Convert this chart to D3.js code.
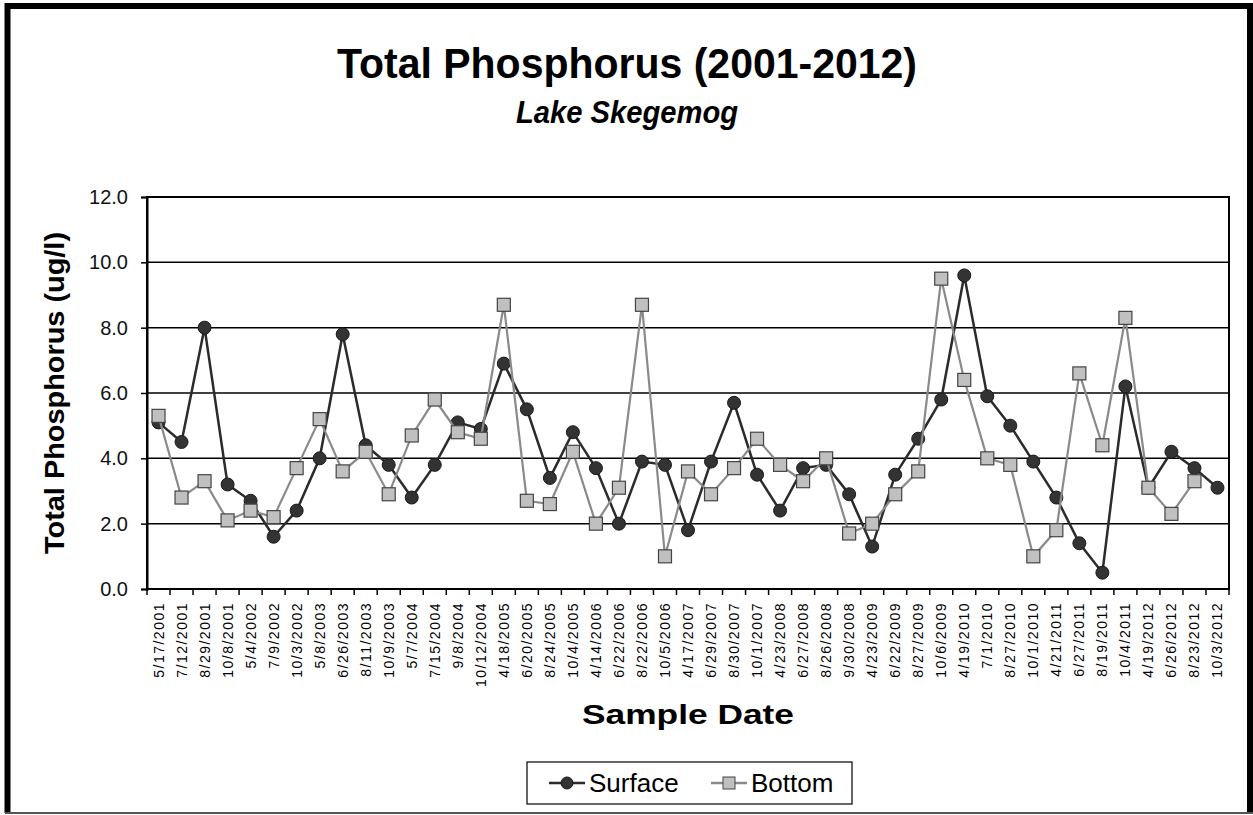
<html>
<head>
  <title>Total Phosphorus</title>
  <script src="https://d3js.org/d3.v7.min.js"></script>
  <style>
    body { margin: 0; background: #fff; }
    text { font-family: Arial, "Liberation Sans", sans-serif; fill: #000; }
  </style>
</head>
<body>
  <div id="chart"></div>

  <script type="text/javascript">

    // Sample dates (categories)
    var dates = ['5/17/2001', '7/12/2001', '8/29/2001', '10/8/2001', '5/4/2002', '7/9/2002', '10/3/2002',
                 '5/8/2003', '6/26/2003', '8/11/2003', '10/9/2003', '5/7/2004', '7/15/2004', '9/8/2004',
                 '10/12/2004', '4/18/2005', '6/20/2005', '8/24/2005', '10/4/2005', '4/14/2006', '6/22/2006',
                 '8/22/2006', '10/5/2006', '4/17/2007', '6/29/2007', '8/30/2007', '10/1/2007', '4/23/2008',
                 '6/27/2008', '8/26/2008', '9/30/2008', '4/23/2009', '6/22/2009', '8/27/2009', '10/6/2009',
                 '4/19/2010', '7/1/2010', '8/27/2010', '10/1/2010', '4/21/2011', '6/27/2011', '8/19/2011',
                 '10/4/2011', '4/19/2012', '6/26/2012', '8/23/2012', '10/3/2012'];

    // Total phosphorus (ug/l)
    var surface = [5.1, 4.5, 8.0, 3.2, 2.7, 1.6, 2.4, 4.0, 7.8, 4.4, 3.8, 2.8, 3.8, 5.1, 4.9, 6.9, 5.5,
                   3.4, 4.8, 3.7, 2.0, 3.9, 3.8, 1.8, 3.9, 5.7, 3.5, 2.4, 3.7, 3.8, 2.9, 1.3, 3.5, 4.6,
                   5.8, 9.6, 5.9, 5.0, 3.9, 2.8, 1.4, 0.5, 6.2, 3.1, 4.2, 3.7, 3.1];
    var bottom = [5.3, 2.8, 3.3, 2.1, 2.4, 2.2, 3.7, 5.2, 3.6, 4.2, 2.9, 4.7, 5.8, 4.8, 4.6, 8.7, 2.7,
                  2.6, 4.2, 2.0, 3.1, 8.7, 1.0, 3.6, 2.9, 3.7, 4.6, 3.8, 3.3, 4.0, 1.7, 2.0, 2.9, 3.6,
                  9.5, 6.4, 4.0, 3.8, 1.0, 1.8, 6.6, 4.4, 8.3, 3.1, 2.3, 3.3, null];

    var yTicks = [0, 2, 4, 6, 8, 10, 12];

    var seriesNames = ['Surface', 'Bottom'];

    var W = 1253, H = 815;
    var margin = {top: 197, right: 24, bottom: 226, left: 147};
    var width = W - margin.left - margin.right;
    var height = H - margin.top - margin.bottom;

    var svg = d3.select('#chart')
                .append('svg')
                  .attr('width', W)
                  .attr('height', H);

    // outer frame
    svg.append('path')
         .attr('d', 'M7.5,' + (H - 2) + ' V6 H1250 V' + (H - 2))
         .style('fill', 'none')
         .style('stroke', '#000')
         .style('stroke-width', 6);
    svg.append('line')
         .attr('x1', 5).attr('x2', 1253)
         .attr('y1', H - 2).attr('y2', H - 2)
         .style('stroke', '#555')
         .style('stroke-width', 2);

    // titles
    svg.append('text')
         .text('Total Phosphorus (2001-2012)')
         .attr('x', 627).attr('y', 78)
         .attr('text-anchor', 'middle')
         .attr('textLength', 580)
         .attr('lengthAdjust', 'spacingAndGlyphs')
         .style('font-size', '43px')
         .style('font-weight', 'bold');
    svg.append('text')
         .text('Lake Skegemog')
         .attr('x', 627).attr('y', 123)
         .attr('text-anchor', 'middle')
         .attr('textLength', 222)
         .attr('lengthAdjust', 'spacingAndGlyphs')
         .style('font-size', '32px')
         .style('font-weight', 'bold')
         .style('font-style', 'italic');

    var g = svg.append('g')
               .attr('transform', 'translate(' + margin.left + ',' + margin.top + ')');

    var x = d3.scaleBand().domain(dates).range([0, width]);
    var y = d3.scaleLinear().domain([0, 12]).range([height, 0]);

    // gridlines
    g.append('g')
       .selectAll('line')
       .data(yTicks)
       .enter().append('line')
         .attr('x1', 0).attr('x2', width)
         .attr('y1', function(d) { return y(d); })
         .attr('y2', function(d) { return y(d); })
         .style('stroke', '#000')
         .style('stroke-width', 1.5);

    g.append('rect')
       .attr('width', width).attr('height', height)
       .style('fill', 'none')
       .style('stroke', '#000')
       .style('stroke-width', 2);

    // y axis
    var y_axis = d3.axisLeft(y).tickValues(yTicks).tickFormat(d3.format('.1f')).tickSize(6).tickPadding(13);
    var gy = g.append('g').attr('class', 'y-axis').call(y_axis);
    gy.select('.domain').style('stroke', '#000').style('stroke-width', 2);
    gy.selectAll('.tick line').style('stroke', '#000').style('stroke-width', 1.5);
    gy.selectAll('text')
        .style('font-size', '20px')
        .style('font-family', 'Arial, "Liberation Sans", sans-serif')
        .style('fill', '#111');

    // x axis: ticks at category boundaries
    var gx = g.append('g').attr('transform', 'translate(0,' + height + ')');
    var bounds = dates.map(function(d) { return x(d); }).concat([width]);
    gx.selectAll('line')
        .data(bounds)
        .enter().append('line')
          .attr('x1', function(d) { return d; })
          .attr('x2', function(d) { return d; })
          .attr('y1', 0).attr('y2', 6)
          .style('stroke', '#000')
          .style('stroke-width', 1.5);
    gx.selectAll('text')
        .data(dates)
        .enter().append('text')
          .text(function(d) { return d; })
          .attr('transform', function(d) {
            return 'translate(' + (x(d) + x.bandwidth() / 2 + 5) + ',13) rotate(-90)';
          })
          .attr('text-anchor', 'end')
          .style('font-size', '14px')
          .style('letter-spacing', '1.5px');

    // axis titles
    svg.append('text')
         .text('Sample Date')
         .attr('x', 688).attr('y', 724)
         .attr('text-anchor', 'middle')
         .attr('textLength', 212)
         .attr('lengthAdjust', 'spacingAndGlyphs')
         .style('font-size', '28px')
         .style('font-weight', 'bold');
    svg.append('text')
         .text('Total Phosphorus (ug/l)')
         .attr('transform', 'translate(64,' + (margin.top + height / 2) + ') rotate(-90)')
         .attr('text-anchor', 'middle')
         .attr('textLength', 322)
         .attr('lengthAdjust', 'spacingAndGlyphs')
         .style('font-size', '27px')
         .style('font-weight', 'bold');

    // series
    var cx = function(d, i) { return x(dates[i]) + x.bandwidth() / 2; };
    var line = d3.line()
                 .defined(function(d) { return d !== null; })
                 .x(cx)
                 .y(function(d) { return y(d); });

    g.append('path')
       .attr('d', line(surface))
       .style('fill', 'none')
       .style('stroke', '#2b2b2b')
       .style('stroke-width', 2.5);
    g.selectAll('.pt-surface')
       .data(surface)
       .enter().append('circle')
         .attr('class', 'pt-surface')
         .attr('cx', cx)
         .attr('cy', function(d) { return y(d); })
         .attr('r', 6.5)
         .style('fill', '#333')
         .style('stroke', '#1a1a1a');

    g.append('path')
       .attr('d', line(bottom))
       .style('fill', 'none')
       .style('stroke', '#8a8a8a')
       .style('stroke-width', 2.2);
    var bpts = bottom.map(function(d, i) { return {v: d, i: i}; }).filter(function(d) { return d.v !== null; });
    g.selectAll('.pt-bottom')
       .data(bpts)
       .enter().append('rect')
         .attr('class', 'pt-bottom')
         .attr('x', function(d) { return cx(d.v, d.i) - 6.5; })
         .attr('y', function(d) { return y(d.v) - 6.5; })
         .attr('width', 13).attr('height', 13)
         .style('fill', '#c0c0c0')
         .style('stroke', '#444')
         .style('stroke-width', 1.2);

    // legend
    var lg = svg.append('g').attr('transform', 'translate(527,762)');
    lg.append('rect')
        .attr('width', 325).attr('height', 42)
        .style('fill', '#fff')
        .style('stroke', '#000')
        .style('stroke-width', 1.2);
    var items = lg.selectAll('.item')
                  .data(seriesNames)
                  .enter().append('g')
                    .attr('class', 'item')
                    .attr('transform', function(d, i) { return 'translate(' + (22 + i * 162) + ',21)'; });
    items.append('line')
         .attr('x1', 0).attr('x2', 36)
         .style('stroke', function(d, i) { return i === 0 ? '#2b2b2b' : '#8a8a8a'; })
         .style('stroke-width', 2.5);
    items.filter(function(d, i) { return i === 0; })
         .append('circle')
           .attr('cx', 18).attr('r', 6)
           .style('fill', '#333').style('stroke', '#1a1a1a');
    items.filter(function(d, i) { return i === 1; })
         .append('rect')
           .attr('x', 12).attr('y', -6).attr('width', 12).attr('height', 12)
           .style('fill', '#c0c0c0').style('stroke', '#444');
    items.append('text')
         .text(function(d) { return d; })
         .attr('x', 40).attr('y', 9)
         .style('font-size', '26px');

  </script>
</body>
</html>
